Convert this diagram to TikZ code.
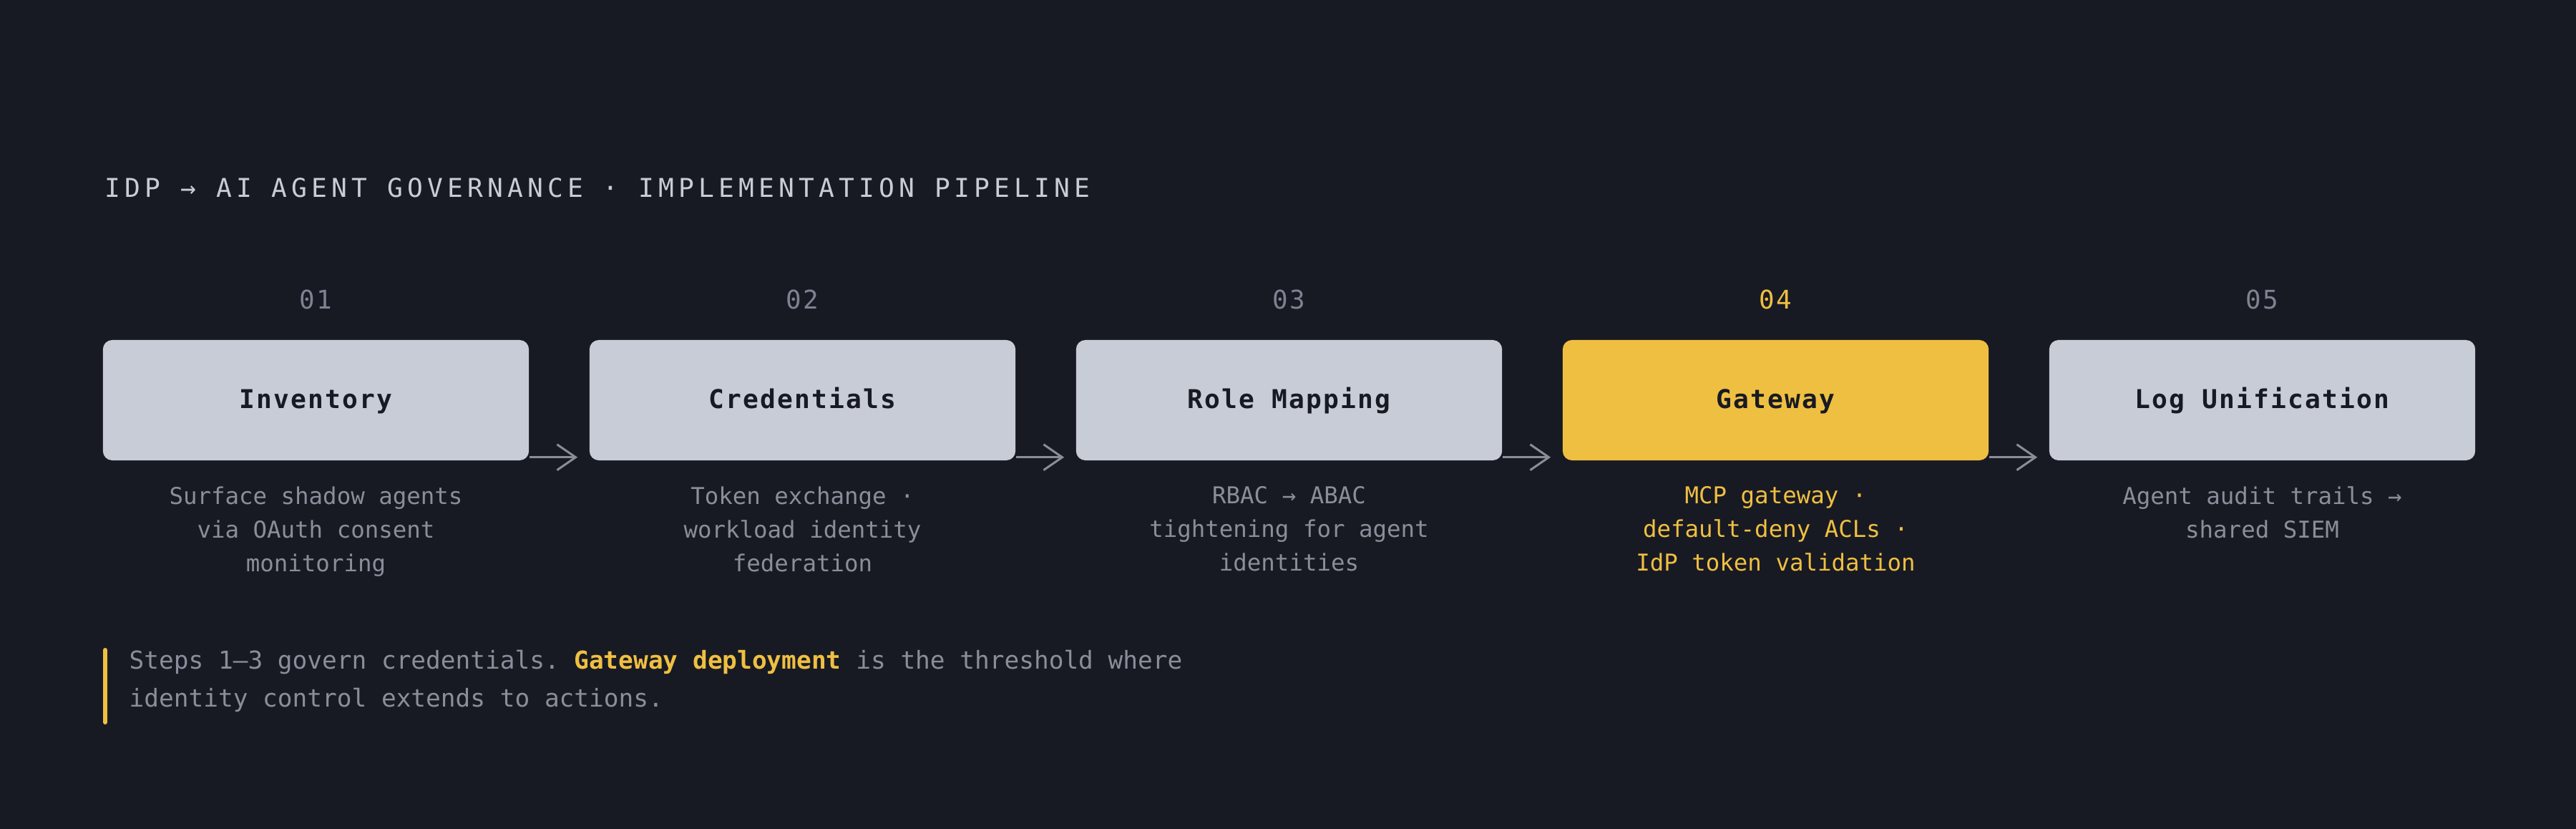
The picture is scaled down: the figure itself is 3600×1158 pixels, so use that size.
\documentclass[tikz,border=0pt]{standalone}
\usepackage{fontspec}
\setmonofont{DejaVu Sans Mono}
\usetikzlibrary{arrows.meta}

\newcommand{\pipetitlefont}{\ttfamily\addfontfeatures{LetterSpace=17}\fontsize{10.3pt}{12pt}\selectfont}
\newcommand{\stepnumfont}{\ttfamily\addfontfeatures{LetterSpace=6}\fontsize{10.2pt}{12pt}\selectfont}
\newcommand{\steplabelfont}{\ttfamily\bfseries\addfontfeatures{LetterSpace=6}\fontsize{10.3pt}{12pt}\selectfont}
\newcommand{\stepdescfont}{\ttfamily\fontsize{9.22pt}{13.37pt}\selectfont}
\newcommand{\pipenotefont}{\ttfamily\fontsize{9.79pt}{15.08pt}\selectfont}

\begin{document}
\begin{tikzpicture}[x=0.01cm, y=-0.01cm,
    stepbox/.style={rectangle, rounded corners=0.13cm, minimum width=5.95cm,
        minimum height=1.68cm, inner sep=0pt, fill=boxcol, text=ink,
        font=\steplabelfont, text height=6.3pt, text depth=0pt},
    stepnum/.style={anchor=base, inner sep=0pt, text=numcol, font=\stepnumfont},
    stepdesc/.style={anchor=north, align=center, inner sep=0pt, text=muted,
        font=\stepdescfont, execute at begin node=\strut},
    flow/.style={draw=arrowcol, line width=0.85pt,
        -{Straight Barb[length=7.4pt, width=10.2pt]}},
    pipetitle/.style={anchor=base west, inner sep=0pt, text=titlecol, font=\pipetitlefont},
    pipenote/.style={anchor=north west, align=left, inner sep=0pt, text=muted,
        font=\pipenotefont, execute at begin node=\strut},
    notebar/.style={draw=accent, line width=1.7pt, line cap=round}]

    % 定义颜色
    \definecolor{bgcol}{HTML}{181A23}
    \definecolor{boxcol}{HTML}{C8CCD7}
    \definecolor{accent}{HTML}{EFBF42}
    \definecolor{ink}{HTML}{181A23}
    \definecolor{muted}{HTML}{8A8E9A}
    \definecolor{numcol}{HTML}{7E8291}
    \definecolor{titlecol}{HTML}{C8CCD7}
    \definecolor{arrowcol}{HTML}{8A8D99}

    % 背景
    \fill[bgcol] (0,0) rectangle (3600,1158);

    % 标题
    \node[pipetitle] (ttl) at (146,276) {IDP → AI AGENT GOVERNANCE · IMPLEMENTATION PIPELINE};

    % 五个步骤
    \node[stepbox] (inv) at (441.5,559) {Inventory};
    \node[stepbox] (cred) at (1121.5,559) {Credentials};
    \node[stepbox] (role) at (1801.5,559) {Role Mapping};
    \node[stepbox, fill=accent] (gate) at (2481.5,559) {Gateway};
    \node[stepbox] (logu) at (3161.5,559) {Log Unification};

    % 步骤编号
    \node[stepnum] (n1) at (441.5,432) {01};
    \node[stepnum] (n2) at (1121.5,432) {02};
    \node[stepnum] (n3) at (1801.5,432) {03};
    \node[stepnum, text=accent] (n4) at (2481.5,432) {04};
    \node[stepnum] (n5) at (3161.5,432) {05};

    % 箭头
    \foreach \a/\b in {inv/cred, cred/role, role/gate, gate/logu} {
        \draw[flow] ([yshift=0.05cm]\a.south east) -- ([yshift=0.05cm, xshift=-0.16cm]\b.south west);
    }

    % 说明文字
    \node[stepdesc] (d1) at (441.5,679) {Surface shadow agents\\via OAuth consent\\monitoring};
    \node[stepdesc] (d2) at (1121.5,679) {Token exchange ·\\workload identity\\federation};
    \node[stepdesc] (d3) at (1801.5,679) {RBAC → ABAC\\tightening for agent\\identities};
    \node[stepdesc, text=accent] (d4) at (2481.5,679) {MCP gateway ·\\default-deny ACLs ·\\IdP token validation};
    \node[stepdesc] (d5) at (3161.5,679) {Agent audit trails →\\shared SIEM};

    % 底部注释
    \draw[notebar] (147,908) -- (147,1009);
    \node[pipenote] (nt) at (180,907) {Steps 1–3 govern credentials. {\bfseries\color{accent}Gateway deployment} is the threshold where\\identity control extends to actions.};

\end{tikzpicture}
\end{document}
